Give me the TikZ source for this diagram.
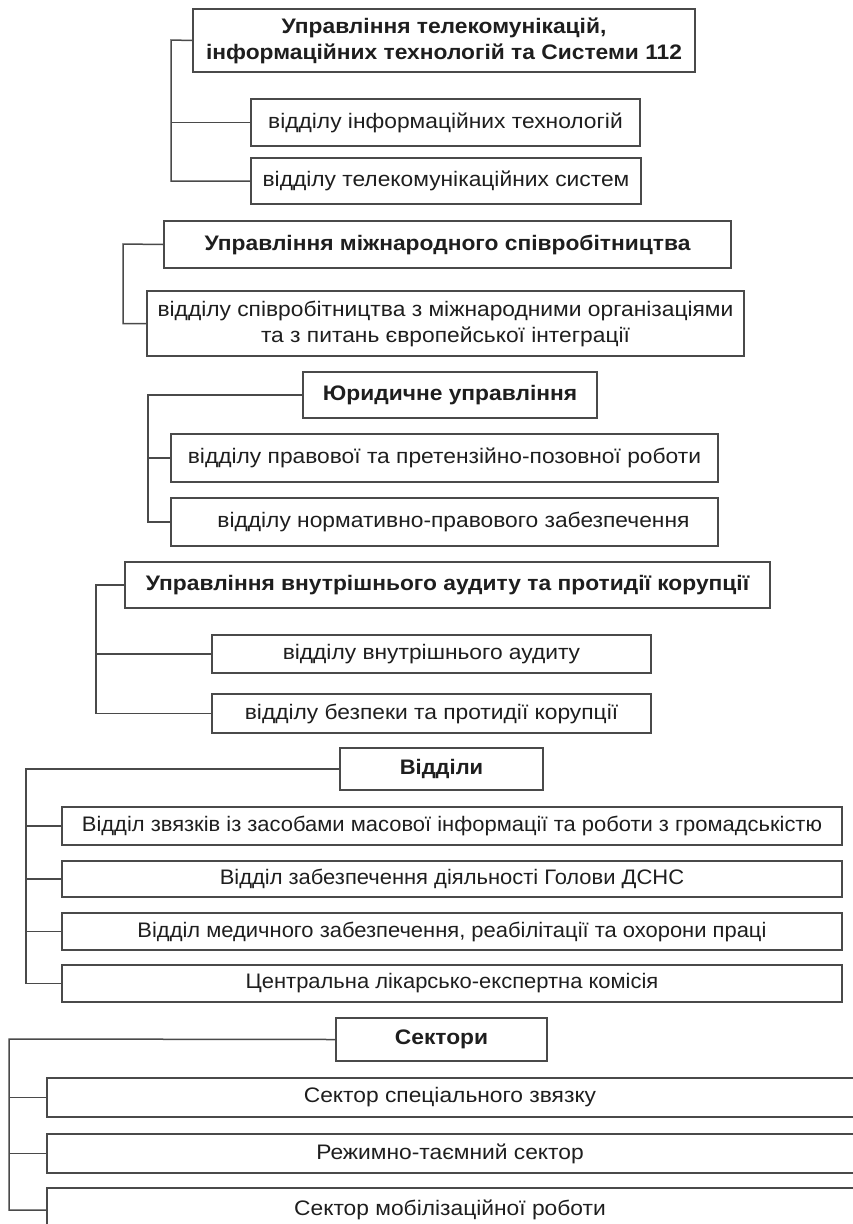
\documentclass[tikz,border=0pt]{standalone}
\usepackage{fontspec}
\setmainfont{Liberation Sans}[FakeStretch=1.085]
\newfontfamily\grpfive{Liberation Sans}[FakeStretch=1.045]
\definecolor{linec}{HTML}{4A4A4A}
\definecolor{textc}{HTML}{1E1E1E}
\tikzset{
  boxst/.style={draw=linec, line width=1.5pt, inner sep=0pt, align=center, text=textc,
    font=\fontsize{21}{26}\selectfont},
  headst/.style={font=\fontsize{21}{26}\selectfont\bfseries},
  fivest/.style={font=\grpfive\fontsize{21}{26}\selectfont},
  fivehead/.style={font=\grpfive\fontsize{21}{26}\selectfont\bfseries},
  conn/.style={draw=linec, line width=1.5pt}
}
\newcommand\bx[7][]{\node[boxst,#1, minimum width={#5-#3}, minimum height={#6-#4}] (#2) at ({(#3+#5)/2},{(#4+#6)/2}) {#7};}
\begin{document}
\begin{tikzpicture}[x=1pt,y=-1pt]
\useasboundingbox (0,0) rectangle (853,1224);
\clip (0,0) rectangle (853,1224);
% group 1
\bx[headst]{h1}{193}{9}{695}{72}{Управління телекомунікацій,\\інформаційних технологій та Системи 112}
\bx{c1a}{251}{99}{640}{146}{відділу інформаційних технологій}
\bx{c1b}{251}{158}{641}{204}{відділу телекомунікаційних систем}
\coordinate (t1) at (171,40);
\draw[conn] (h1.west) -- (t1) |- (c1b.west);
\draw[conn] (c1a.west) -- (c1a.west -| t1);
% group 2
\bx[headst]{h2}{164}{221}{731}{268}{Управління міжнародного співробітництва}
\bx{c2a}{147}{291}{744}{356}{відділу співробітництва з міжнародними організаціями\\та з питань європейської інтеграції}
\coordinate (t2) at (123,244);
\draw[conn] (h2.west) -- (t2) |- (c2a.west);
% group 3
\bx[headst]{h3}{303}{372}{597}{418}{Юридичне управління}
\bx{c3a}{171}{434}{718}{482}{відділу правової та претензійно-позовної роботи}
\bx{c3b}{171}{498}{718}{546}{\hspace*{18pt}відділу нормативно-правового забезпечення}
\coordinate (t3) at (148,395);
\draw[conn] (h3.west) -- (t3) |- (c3b.west);
\draw[conn] (c3a.west) -- (c3a.west -| t3);
% group 4
\bx[headst]{h4}{125}{562}{770}{608}{Управління внутрішнього аудиту та протидії корупції}
\bx{c4a}{212}{635}{651}{673}{відділу внутрішнього аудиту}
\bx{c4b}{212}{694}{651}{733}{відділу безпеки та протидії корупції}
\coordinate (t4) at (96,585);
\draw[conn] (h4.west) -- (t4) |- (c4b.west);
\draw[conn] (c4a.west) -- (c4a.west -| t4);
% group 5
\bx[fivehead]{h5}{340}{748}{543}{790}{Відділи}
\bx[fivest]{c5a}{62}{807}{842}{845}{Відділ звязків із засобами масової інформації та роботи з громадськістю}
\bx[fivest]{c5b}{62}{861}{842}{897}{Відділ забезпечення діяльності Голови ДСНС}
\bx[fivest]{c5c}{62}{913}{842}{950}{Відділ медичного забезпечення, реабілітації та охорони праці}
\bx[fivest]{c5d}{62}{965}{842}{1002}{Центральна лікарсько-експертна комісія}
\coordinate (t5) at (26,769);
\draw[conn] (h5.west) -- (t5) |- (c5d.west);
\draw[conn] (c5a.west) -- (c5a.west -| t5);
\draw[conn] (c5b.west) -- (c5b.west -| t5);
\draw[conn] (c5c.west) -- (c5c.west -| t5);
% group 6
\bx[headst]{h6}{336}{1018}{547}{1061}{Сектори}
\bx{c6a}{47}{1078}{870}{1117}{\hspace*{-17pt}Сектор спеціального звязку}
\bx{c6b}{47}{1134}{870}{1173}{\hspace*{-17pt}Режимно-таємний сектор}
\bx{c6c}{47}{1188}{870}{1232}{\hspace*{-17pt}Сектор мобілізаційної роботи}
\coordinate (t6) at (9,1039);
\draw[conn] (h6.west) -- (t6) |- (c6c.west);
\draw[conn] (c6a.west) -- (c6a.west -| t6);
\draw[conn] (c6b.west) -- (c6b.west -| t6);
\end{tikzpicture}
\end{document}
